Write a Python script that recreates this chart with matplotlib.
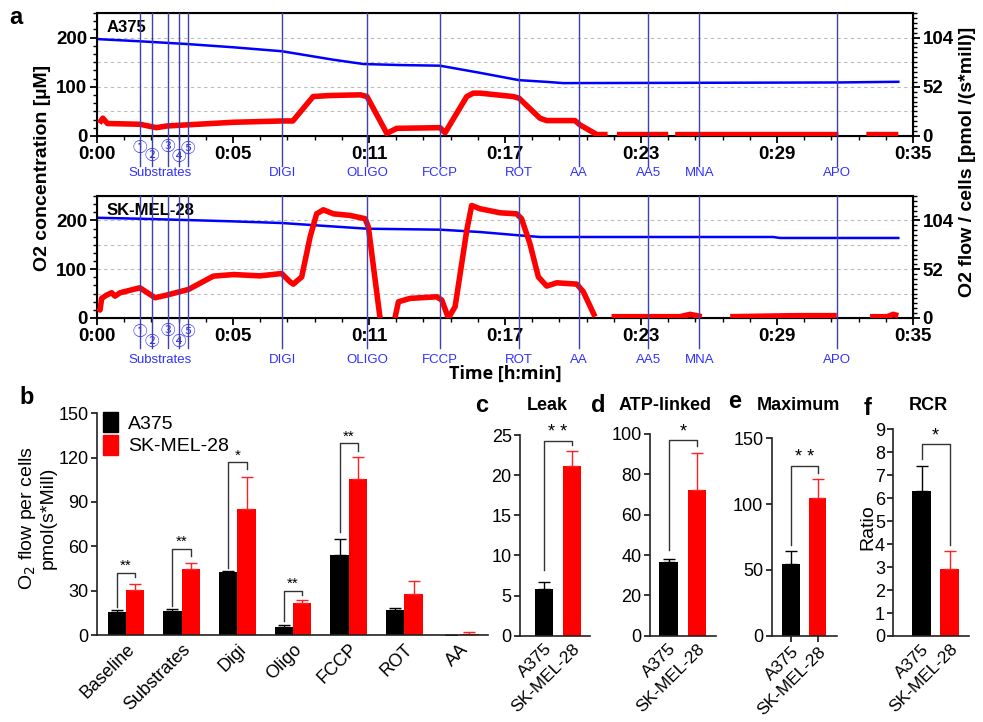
import numpy as np
import matplotlib
matplotlib.use("Agg")
import matplotlib.pyplot as plt
from matplotlib.patches import Patch
from matplotlib.ticker import MultipleLocator, FixedLocator

nan = np.nan

# ---- panel a : O2k traces (time in minutes) ----
time_ticks = [0, 35 / 6, 70 / 6, 17.5, 140 / 6, 175 / 6, 35]
time_labels = ["0:00", "0:05", "0:11", "0:17", "0:23", "0:29", "0:35"]

events_t = [1.84, 2.36, 3.05, 3.52, 3.90, 7.94, 11.58, 14.71, 18.10, 20.68, 23.64, 25.83, 31.75]
events_name = ["①", "②", "③", "④", "⑤", "DIGI", "OLIGO", "FCCP", "ROT", "AA", "AA5", "MNA", "APO"]

# A375
a375_conc_t = [0, 1.84, 3.84, 5.85, 7.94, 10.14, 11.43, 13.0, 14.71, 16.43, 18.1, 19.29, 20.0, 31.75, 34.37]
a375_conc = [197, 192.5, 187, 180.3, 172.2, 155, 146.3, 144.2, 142.9, 128.4, 113.5, 110, 107.5, 108.8, 110.2]
a375_flow_t = [0.1, 0.25, 0.45, 1.84, 2.55, 3.0, 5.85, 7.94, 8.4, 9.27, 10.0, 11.3, 11.58, 12.43,
               12.86, 14.71, 14.93, 15.86, 16.14, 16.43, 17.85, 18.1, 19.0, 19.29, 20.5, 20.72, 21.44,
               21.9, 22.1, 22.3, 24.5, 24.6, 24.8, 31.8, 31.9, 33.0, 34.37]
a375_flow = [13.5, 18.8, 13.2, 12.4, 8.8, 10.6, 14.5, 15.9, 15.9, 41.7, 42.8, 43.5, 41.7, 2.8,
             8.1, 8.8, 3.5, 41.7, 45.3, 45.3, 41.7, 40, 18.8, 16.3, 16.3, 11.7, 1.5,
             1.5, nan, 1.5, 1.5, nan, 1.5, 1.5, nan, 1.5, 1.5]

# SK-MEL-28
sk_conc_t = [0, 1.84, 4.42, 5.85, 7.94, 9.42, 11.58, 14.71, 16.43, 18.1, 19.0, 29.0, 29.3, 34.37]
sk_conc = [205.4, 203.4, 200, 198, 194.6, 189.8, 183, 181, 176.2, 169.4, 166, 166, 164, 164]
sk_flow_t = [0.06, 0.13, 0.2, 0.41, 0.63, 0.77, 0.99, 1.84, 2.49, 2.99, 3.92, 4.99, 5.85, 6.99,
             7.92, 8.28, 8.42, 8.78, 9.14, 9.42, 9.71, 10.14, 10.85, 11.5, 11.64, 12.14,
             12.45, 12.78, 12.93, 13.43, 14.57, 14.79, 15.07, 15.36, 15.86, 16.07, 16.43, 17.29,
             18.0, 18.21, 18.57, 18.93, 19.29, 19.72, 20.58, 20.86, 21.36, 21.7, 22.07, 25.0,
             25.44, 25.94, 26.05, 27.16, 30.0, 31.73, 31.8, 33.16, 33.9, 34.15, 34.37]
sk_flow = [10.3, 8.5, 20.9, 24.4, 26.9, 23.3, 26.9, 32.2, 21.6, 24.4, 30.4, 44.6, 46.3, 44.9,
           47.4, 38.5, 36.1, 43.8, 86.3, 111, 115.3, 111, 109.3, 105.8, 96.9, 0,
           nan, 0, 17.3, 20.9, 22.6, 19.1, 0, 12, 93.4, 119.9, 116.4, 112.1,
           111, 105.8, 79.2, 43.8, 34, 37.5, 36.1, 27.9, 1.4, nan, 1.4, 1.4,
           3.9, 1.4, nan, 1.4, 2.5, 2.5, nan, 1.4, 1.4, 3.9, 2.5]

# ---- panel b ----
b_cats = ["Baseline", "Substrates", "Digi", "Oligo", "FCCP", "ROT", "AA"]
b_a375 = [15.4, 16.4, 42.6, 5.6, 54.3, 16.9, 0.3]
b_a375_err = [1.5, 1.2, 0.7, 0.9, 10.9, 1.6, 0.0]
b_sk = [30.4, 44.7, 85.0, 21.9, 105.5, 27.5, 0.5]
b_sk_err = [3.9, 4.2, 22.1, 1.8, 14.7, 9.2, 1.5]
# bracket: group index, height, left leg end, right leg end, stars
b_sig = [(0, 42.2, 19.2, 39.4, "**"), (1, 58, 19.6, 53.4, "**"), (2, 116.8, 45, 112, "*"),
         (3, 30, 9.7, 27, "**"), (4, 129.7, 69.9, 124.7, "**")]

# ---- panels c-f ----
lines = ["A375", "SK-MEL-28"]
leak = [5.8, 21.2]
leak_err = [0.9, 1.8]
atp = [36.4, 72.2]
atp_err = [1.5, 18.5]
maxi = [54.2, 104.4]
maxi_err = [10.4, 14.9]
rcr = [6.32, 2.9]
rcr_err = [1.08, 0.82]

W, H = 983, 722
fig = plt.figure(figsize=(W / 100, H / 100), dpi=100)
BLUE_EV = "#4040aa"
LBL_BLUE = "#3030ff"
SANS = ["Liberation Sans", "DejaVu Sans"]
plt.rcParams["font.family"] = SANS


def px_axes(l, t, r, b):
    return fig.add_axes([l / W, 1 - b / H, (r - l) / W, (b - t) / H])


def trace_panel(top, bottom, name, ct, c, ft, f, lab_dy, num_dy, line_dy):
    ax = px_axes(97, top, 913, bottom)
    ax.set_xlim(0, 35)
    ax.set_ylim(0, 250)
    for g in [50, 100, 150, 200]:
        ax.axhline(g, color="#bbbbbb", lw=0.8, ls=(0, (3, 3)), zorder=0)
    ax.plot(ct, c, color="#0000ff", lw=1.8, zorder=3)
    ax.set_yticks([0, 100, 200])
    ax.yaxis.set_minor_locator(MultipleLocator(100 / 6))
    ax.set_xticks(time_ticks)
    ax.set_xticklabels(time_labels)
    ax.xaxis.set_minor_locator(FixedLocator(np.linspace(0, 35, 31)))
    ax.tick_params(which="major", direction="out", length=5, width=1.3, labelsize=13.5, pad=2)
    ax.tick_params(which="minor", direction="out", length=3, width=1)
    for s in ax.spines.values():
        s.set_linewidth(1.5)
    for lbl in ax.get_xticklabels() + ax.get_yticklabels():
        lbl.set_fontweight("bold")

    ax2 = ax.twinx()
    ax2.set_ylim(0, 130)
    ax2.set_yticks([0, 52, 104])
    ax2.yaxis.set_minor_locator(MultipleLocator(5.2))
    ax2.tick_params(which="major", direction="out", length=5, width=1.3, labelsize=13.5, pad=2)
    ax2.tick_params(which="minor", direction="out", length=3, width=1)
    for lbl in ax2.get_yticklabels():
        lbl.set_fontweight("bold")
    ax2.plot(ft, f, color="#ff0000", lw=4, solid_capstyle="butt", zorder=3)

    hpx = bottom - top
    tr = ax2.get_xaxis_transform()
    for i, (t, nm) in enumerate(zip(events_t, events_name)):
        ax2.plot([t, t], [1, -line_dy / hpx], color=BLUE_EV, lw=1, transform=tr,
                 clip_on=False, zorder=4)
        if i < 5:
            ax2.text(t, -num_dy[i] / hpx, nm, transform=tr, ha="center", va="center",
                     fontsize=10.5, color=LBL_BLUE,
                     family=["Noto Sans CJK JP", "DejaVu Sans"])
        else:
            ax2.text(t, -lab_dy / hpx, nm, transform=tr, ha="center", va="center",
                     fontsize=9.5, color=LBL_BLUE)
    ax2.text(2.7, -lab_dy / hpx, "Substrates", transform=tr, ha="center", va="center",
             fontsize=9.5, color=LBL_BLUE)
    ax.text(0.012, 0.88, name, transform=ax.transAxes, fontsize=12, fontweight="bold",
            va="center", ha="left")
    return ax


trace_panel(13, 136, "A375", a375_conc_t, a375_conc, a375_flow_t, a375_flow,
            37, [12, 20, 11, 21, 13], 30)
trace_panel(196, 318, "SK-MEL-28", sk_conc_t, sk_conc, sk_flow_t, sk_flow,
            42, [14, 24, 13, 24, 14], 30)

fig.text(43 / W, 1 - 168 / H, "O2 concentration [µM]", rotation=90, ha="center",
         va="center", fontsize=14, fontweight="bold")
fig.text(967 / W, 1 - 162 / H, "O2 flow / cells [pmol /(s*mill)]", rotation=90,
         ha="center", va="center", fontsize=14, fontweight="bold")
fig.text(505 / W, 1 - 374 / H, "Time [h:min]", ha="center", va="center", fontsize=13,
         fontweight="bold", family=["Open Sans", "DejaVu Sans"])


def style_bar_axes(ax, xsize=13):
    for s in ["top", "right"]:
        ax.spines[s].set_visible(False)
    for s in ["left", "bottom"]:
        ax.spines[s].set_linewidth(1.2)
        ax.spines[s].set_color("#222222")
    ax.tick_params(axis="y", direction="out", length=4, width=1.1, labelsize=13, pad=2)
    ax.tick_params(axis="x", length=0, labelsize=xsize, pad=4)


def bracket(ax, x1, x2, h, y1, y2, txt, fs=12):
    ax.plot([x1, x1, x2, x2], [y1, h, h, y2], color="#333333", lw=1, clip_on=False)
    ax.text((x1 + x2) / 2, h, txt, ha="center", va="bottom", fontsize=fs, clip_on=False)


# ---- b ----
axb = px_axes(97, 413.3, 488, 635)
xb = np.arange(len(b_cats))
bw = 0.33
axb.bar(xb - bw / 2, b_a375, bw, color="black")
axb.bar(xb + bw / 2, b_sk, bw, color="#ff0000")
axb.errorbar(xb - bw / 2, b_a375, yerr=[np.zeros(7), b_a375_err], fmt="none", ecolor="black",
             elinewidth=1, capsize=4, capthick=1)
axb.errorbar(xb + bw / 2, b_sk, yerr=[np.zeros(7), b_sk_err], fmt="none", ecolor="#ff2020",
             elinewidth=1, capsize=4, capthick=1)
for gi, h, l1, l2, s in b_sig:
    bracket(axb, gi - bw / 2, gi + bw / 2, h, l1, l2, s, fs=11)
axb.set_xlim(-0.52, 6.5)
axb.set_ylim(0, 150)
axb.set_yticks([0, 30, 60, 90, 120, 150])
axb.set_xticks(xb)
axb.set_xticklabels(b_cats, rotation=45, ha="right", rotation_mode="anchor")
style_bar_axes(axb)
axb.legend(handles=[Patch(color="black", label="A375"), Patch(color="#ff0000", label="SK-MEL-28")],
           loc="upper left", bbox_to_anchor=(-0.005, 1.04), frameon=False, fontsize=14,
           handlelength=0.8, handleheight=1.2, handletextpad=0.5, labelspacing=0.1,
           borderaxespad=0)
fig.text(37 / W, 1 - 518 / H, "O$_2$ flow per cells\npmol(s*Mill)", rotation=90,
         ha="center", va="center", fontsize=14, multialignment="center", linespacing=1.1)


def small_panel(box, vals, errs, ylim, yticks, xlim, width, sig, title, tx, ticks_x=False):
    ax = px_axes(*box)
    x = np.arange(2)
    ax.bar(x, vals, width, color=["black", "#ff0000"])
    ax.errorbar([0], [vals[0]], yerr=[[0], [errs[0]]], fmt="none", ecolor="black",
                elinewidth=1, capsize=4, capthick=1)
    ax.errorbar([1], [vals[1]], yerr=[[0], [errs[1]]], fmt="none", ecolor="#ff2020",
                elinewidth=1, capsize=4, capthick=1)
    h, l1, l2, s = sig
    bracket(ax, 0, 1, h, l1, l2, s, fs=13)
    ax.set_ylim(*ylim)
    ax.set_yticks(yticks)
    ax.set_xlim(*xlim)
    ax.set_xticks(x)
    ax.set_xticklabels(lines, rotation=45, ha="right", rotation_mode="anchor")
    style_bar_axes(ax, xsize=12.5)
    if ticks_x:
        ax.tick_params(axis="x", length=4, width=1.1, pad=2)
    fig.text(tx / W, 1 - 405 / H, title, ha="center", va="center", fontsize=13,
             fontweight="bold")
    return ax


small_panel((520, 435, 590, 635.7), leak, leak_err, (0, 25), [0, 5, 10, 15, 20, 25],
            (-0.857, 1.643), 0.65, (24.3, 8.2, 23.7, "* *"), "Leak", 547)
small_panel((650, 434, 716, 635.7), atp, atp_err, (0, 100), [0, 20, 40, 60, 80, 100],
            (-0.65, 1.667), 0.64, (96.9, 42.5, 94, "*"), "ATP-linked", 665)
small_panel((771.7, 438.3, 836.7, 635.7), maxi, maxi_err, (0, 150), [0, 50, 100, 150],
            (-0.715, 1.693), 0.63, (129, 69, 123.4, "* *"), "Maximum", 798, ticks_x=True)
small_panel((893.3, 429.3, 969, 636), rcr, rcr_err, (0, 9), list(range(10)),
            (-1.014, 1.689), 0.66, (8.35, 7.7, 3.96, "*"), "RCR", 928)
fig.text(868 / W, 1 - 527 / H, "Ratio", rotation=90, ha="center", va="center", fontsize=14)

for ch, x, y in [("a", 16, 18), ("b", 27, 397), ("c", 482, 405), ("d", 598, 405),
                 ("e", 735, 402), ("f", 868, 408)]:
    fig.text(x / W, 1 - y / H, ch, ha="center", va="center", fontsize=17, fontweight="bold")

fig.savefig("out.png", dpi=100)
